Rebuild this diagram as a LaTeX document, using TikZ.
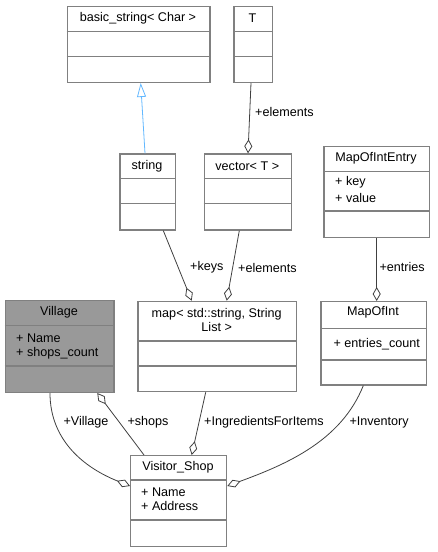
\documentclass[tikz,border=0pt]{standalone}
\usepackage{fontspec}
\setmainfont{Liberation Sans}
\usepackage{tikz}
\usetikzlibrary{arrows.meta,calc}

\definecolor{boxgray}{RGB}{128,128,128}
\definecolor{edgegray}{RGB}{64,64,64}
\definecolor{inhblue}{RGB}{99,184,255}
\definecolor{curfill}{RGB}{153,153,153}

\begin{document}
\begin{tikzpicture}[x=1pt,y=-1pt,
  every node/.style={font=\fontsize{12.6}{13.4}\selectfont,inner sep=0pt},
  classbox/.style={draw=boxgray,line width=1.3pt,fill=white,anchor=north west},
  divider/.style={draw=boxgray,line width=1.3pt},
  aggr/.style={draw=edgegray,line width=0.8pt,-{Diamond[length=14pt,width=8pt,fill=white]}},
  inherit/.style={draw=inhblue,line width=0.8pt,-{Triangle[length=14pt,width=9pt,fill=white]}}]
  \useasboundingbox (0,0) rectangle (438,552);

  % class boxes
  \node[classbox,minimum width=142.6pt,minimum height=76pt] (basicstr) at (66.7,5.7) {};
  \draw[divider] (66.7,31.3) -- (209.3,31.3) (66.7,56.7) -- (209.3,56.7);
  \node (basicstr_t) at (138,18.5) {basic\_string< Char >};

  \node[classbox,minimum width=38.4pt,minimum height=76pt] (T) at (233.3,5.7) {};
  \draw[divider] (233.3,31.3) -- (271.7,31.3) (233.3,56.7) -- (271.7,56.7);
  \node (T_t) at (252.5,18.5) {T};

  \node[classbox,minimum width=55.4pt,minimum height=76pt] (string) at (119.3,153.3) {};
  \draw[divider] (119.3,178.3) -- (174.7,178.3) (119.3,203.7) -- (174.7,203.7);
  \node (string_t) at (147,166) {string};

  \node[classbox,minimum width=87.3pt,minimum height=76pt] (vector) at (203.7,153.3) {};
  \draw[divider] (203.7,178.3) -- (291,178.3) (203.7,203.7) -- (291,203.7);
  \node (vector_t) at (247.3,166) {vector< T >};

  \node[classbox,minimum width=105.4pt,minimum height=91pt] (entry) at (323.3,145.7) {};
  \draw[divider] (323.3,171.7) -- (428.7,171.7) (323.3,211) -- (428.7,211);
  \node (entry_t) at (376,158.3) {MapOfIntEntry};
  \node[anchor=west] (entry_m1) at (335,182.7) {+ key};
  \node[anchor=west] (entry_m2) at (335,197.7) {+ value};

  \node[classbox,fill=curfill,minimum width=108.6pt,minimum height=91.7pt] (village) at (4.7,300) {};
  \draw[divider] (4.7,325.7) -- (113.3,325.7) (4.7,366) -- (113.3,366);
  \node (village_t) at (59,312.3) {Village};
  \node[anchor=west] (village_m1) at (16,338.3) {+ Name};
  \node[anchor=west] (village_m2) at (16,353.3) {+ shops\_count};

  \node[classbox,minimum width=158.7pt,minimum height=90.3pt] (map) at (137.3,300.7) {};
  \draw[divider] (137.3,341) -- (296,341) (137.3,366) -- (296,366);
  \node[align=center] (map_t) at (216.7,320) {map< std::string, String\\List >};

  \node[classbox,minimum width=105.4pt,minimum height=83.3pt] (mapint) at (320.3,301) {};
  \draw[divider] (320.3,328.3) -- (425.7,328.3) (320.3,360) -- (425.7,360);
  \node (mapint_t) at (373,312.7) {MapOfInt};
  \node[anchor=west] (mapint_m1) at (333.3,343.7) {+ entries\_count};

  \node[classbox,minimum width=96pt,minimum height=90.7pt] (shop) at (130,455) {};
  \draw[divider] (130,480) -- (226,480) (130,520) -- (226,520);
  \node (shop_t) at (178,467.3) {Visitor\_Shop};
  \node[anchor=west] (shop_m1) at (141,492.7) {+ Name};
  \node[anchor=west] (shop_m2) at (141,506) {+ Address};

  % relations
  \draw[inherit] ([xshift=25.7pt]string.north west) -- ([xshift=74pt]basicstr.south west);
  \draw[aggr] ([xshift=17.7pt]T.south west) -- ([xshift=44.3pt]vector.north west);
  \draw[aggr] ([xshift=44pt]string.south west) -- ([xshift=54.4pt]map.north west);
  \draw[aggr] ([xshift=35.6pt]vector.south west) -- ([xshift=89.4pt]map.north west);
  \draw[aggr] ([xshift=53.4pt]entry.south west) -- ([xshift=56.4pt]mapint.north west);
  \draw[aggr] ([xshift=45.3pt]village.south west) .. controls +(0,48) and +(-45,-18) .. ([yshift=-31pt]shop.north west);
  \draw[aggr] ([xshift=14pt]shop.north west) -- ([xshift=92.6pt]village.south west);
  \draw[aggr] ([xshift=68.4pt]map.south west) -- ([xshift=61.7pt]shop.north west);
  \draw[aggr] ([xshift=43pt]mapint.south west) .. controls +(-22,55) and +(60,-22) .. ([yshift=-31pt]shop.north east);

  % role labels
  \node[anchor=west] (lbl_elem1) at (255,111.7) {+elements};
  \node[anchor=west] (lbl_keys) at (190,267.7) {+keys};
  \node[anchor=west] (lbl_elem2) at (238,267.7) {+elements};
  \node[anchor=west] (lbl_entries) at (379.3,266.7) {+entries};
  \node[anchor=west] (lbl_village) at (63.3,422.7) {+Village};
  \node[anchor=west] (lbl_shops) at (127.3,422.7) {+shops};
  \node[anchor=west] (lbl_ingr) at (204,422.7) {+IngredientsForItems};
  \node[anchor=west] (lbl_inv) at (349.3,422.7) {+Inventory};
\end{tikzpicture}
\end{document}
